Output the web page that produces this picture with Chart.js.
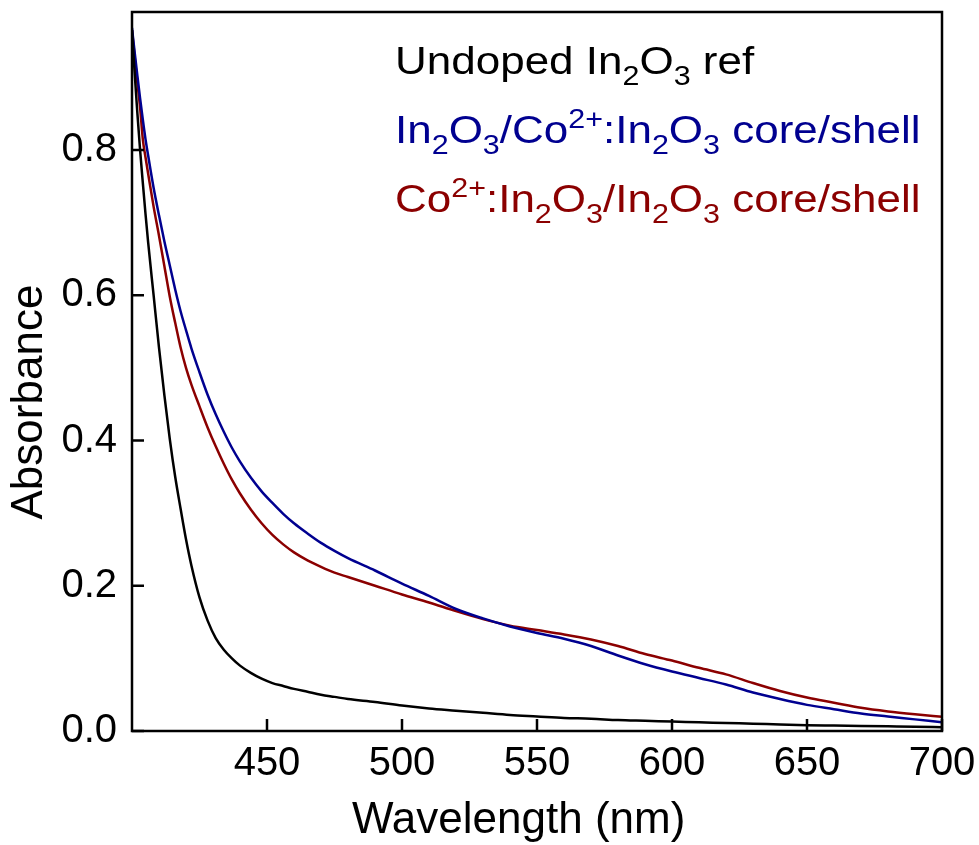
<!DOCTYPE html>
<html>
<head>
<meta charset="utf-8">
<script src="https://cdn.jsdelivr.net/npm/chart.js@4/dist/chart.umd.min.js"></script>
<style>
  html, body { margin: 0; padding: 0; background: #fff; }
  #wrap { width: 979px; height: 845px; position: relative; }
</style>
</head>
<body>
<div id="wrap"><canvas id="c" width="979" height="845"></canvas></div>
<script>
// ---- data ----
const wavelength = [400,401,402,403,404,405,406,408,410,412,414,416,418,420,422,425,428,431,434,437,440,444,448,452,456,460,465,470,475,480,490,500,510,520,530,540,550,560,570,580,590,600,610,620,630,640,650,660,670,680,690,700];

const absUndoped = [0.965,0.905,0.85,0.80,0.755,0.712,0.672,0.600,0.528,0.462,0.402,0.350,0.306,0.264,0.228,0.184,0.152,0.128,0.112,0.100,0.090,0.080,0.072,0.066,0.062,0.058,0.054,0.050,0.047,0.044,0.040,0.035,0.031,0.028,0.025,0.022,0.020,0.018,0.017,0.015,0.014,0.013,0.012,0.011,0.010,0.009,0.008,0.0075,0.007,0.0065,0.006,0.005];

const absCoreCoShell = [0.968,0.934,0.902,0.871,0.842,0.815,0.792,0.748,0.710,0.674,0.641,0.608,0.578,0.552,0.527,0.494,0.463,0.436,0.412,0.390,0.371,0.349,0.330,0.314,0.299,0.286,0.272,0.259,0.248,0.238,0.221,0.203,0.186,0.168,0.155,0.144,0.135,0.127,0.117,0.104,0.092,0.082,0.073,0.064,0.053,0.044,0.036,0.030,0.024,0.020,0.016,0.012];

const absCoCoreShell = [0.965,0.928,0.892,0.858,0.815,0.790,0.767,0.722,0.682,0.640,0.598,0.562,0.528,0.500,0.477,0.447,0.418,0.392,0.368,0.346,0.327,0.305,0.286,0.270,0.257,0.246,0.235,0.226,0.218,0.212,0.200,0.188,0.177,0.165,0.154,0.145,0.139,0.133,0.126,0.117,0.106,0.097,0.087,0.078,0.066,0.055,0.046,0.039,0.032,0.027,0.023,0.0195];

const seriesNames = ['Undoped In2O3 ref', 'In2O3/Co2+:In2O3 core/shell', 'Co2+:In2O3/In2O3 core/shell'];
const seriesColors = ['#000000', '#000090', '#8b0000'];

// legend runs: [text, 'n' normal | 'b' subscript | 'p' superscript]
const legendRuns = [
  [['Undoped In','n'],['2','b'],['O','n'],['3','b'],[' ref','n']],
  [['In','n'],['2','b'],['O','n'],['3','b'],['/Co','n'],['2+','p'],[':In','n'],['2','b'],['O','n'],['3','b'],[' core/shell','n']],
  [['Co','n'],['2+','p'],[':In','n'],['2','b'],['O','n'],['3','b'],['/In','n'],['2','b'],['O','n'],['3','b'],[' core/shell','n']]
];

const xTicks = [450, 500, 550, 600, 650, 700];
const yTicks = [0.0, 0.2, 0.4, 0.6, 0.8];

const FONT = '"Liberation Sans", Arial, sans-serif';

function toPoints(ys) { return wavelength.map((x, i) => ({x: x, y: ys[i]})); }

const boxPlugin = {
  id: 'boxPlugin',
  afterDraw(chart) {
    const ctx = chart.ctx;
    const a = chart.chartArea;
    const xs = chart.scales.x, ys = chart.scales.y;
    ctx.save();
    ctx.strokeStyle = '#000';
    ctx.lineWidth = 2.5;
    ctx.strokeRect(a.left, a.top, a.right - a.left, a.bottom - a.top);
    const tl = 12;
    ctx.beginPath();
    xs.ticks.forEach(t => {
      const px = xs.getPixelForValue(t.value);
      ctx.moveTo(px, a.bottom); ctx.lineTo(px, a.bottom - tl);
    });
    ys.ticks.forEach(t => {
      const py = ys.getPixelForValue(t.value);
      ctx.moveTo(a.left, py); ctx.lineTo(a.left + tl, py);
    });
    ctx.stroke();
    // legend text with sub/superscripts
    const size = 39, small = 27, sx = 1.128;
    const x0 = 395, baselines = [73.5, 143, 212];
    ctx.textBaseline = 'alphabetic';
    ctx.textAlign = 'left';
    legendRuns.forEach((runs, li) => {
      let x = 0;
      ctx.save();
      ctx.translate(x0, baselines[li]);
      ctx.scale(sx, 1);
      ctx.fillStyle = seriesColors[li];
      runs.forEach(([txt, mode]) => {
        let dy = 0, fs = size;
        if (mode === 'b') { fs = small; dy = 11; }
        if (mode === 'p') { fs = small; dy = -15; }
        ctx.font = fs + 'px ' + FONT;
        ctx.fillText(txt, x, dy);
        x += ctx.measureText(txt).width;
      });
      ctx.restore();
    });
    ctx.restore();
  }
};

function noPad(s) { s.paddingTop = 0; s.paddingBottom = 0; s.paddingLeft = 0; s.paddingRight = 0; }

new Chart(document.getElementById('c'), {
  type: 'line',
  data: {
    datasets: [
      { label: seriesNames[0], data: toPoints(absUndoped), borderColor: seriesColors[0], borderWidth: 2.5, pointRadius: 0, cubicInterpolationMode: 'monotone', fill: false },
      { label: seriesNames[1], data: toPoints(absCoreCoShell), borderColor: seriesColors[1], borderWidth: 2.5, pointRadius: 0, cubicInterpolationMode: 'monotone', fill: false },
      { label: seriesNames[2], data: toPoints(absCoCoreShell), borderColor: seriesColors[2], borderWidth: 2.5, pointRadius: 0, cubicInterpolationMode: 'monotone', fill: false }
    ]
  },
  options: {
    responsive: false,
    animation: false,
    events: [],
    layout: { padding: { left: 0, right: 37, top: 12, bottom: 0 } },
    plugins: { legend: { display: false }, tooltip: { enabled: false } },
    scales: {
      x: {
        type: 'linear', min: 400, max: 700,
        grid: { display: false, drawTicks: false },
        border: { display: false },
        afterBuildTicks: s => { s.ticks = xTicks.map(v => ({value: v})); },
        afterFit: s => { s.height = 114; noPad(s); },
        ticks: { color: '#000', font: { family: FONT, size: 40 }, padding: 9, maxRotation: 0, autoSkip: false, callback: v => String(v) },
        title: { display: true, text: 'Wavelength (nm)   ', color: '#000', font: { family: FONT, size: 44, lineHeight: 1 }, padding: { top: 0, bottom: 2 } }
      },
      y: {
        type: 'linear', min: 0, max: 0.99,
        grid: { display: false, drawTicks: false },
        border: { display: false },
        afterBuildTicks: s => { s.ticks = yTicks.map(v => ({value: v})); },
        afterFit: s => { s.width = 132; noPad(s); },
        ticks: { color: '#000', font: { family: FONT, size: 40 }, padding: 15, autoSkip: false, callback: v => Number(v).toFixed(1) },
        title: { display: true, text: 'Absorbance     ', color: '#000', font: { family: FONT, size: 44, lineHeight: 1 }, padding: { top: 8, bottom: 0 } }
      }
    }
  },
  plugins: [boxPlugin]
});
</script>
</body>
</html>
